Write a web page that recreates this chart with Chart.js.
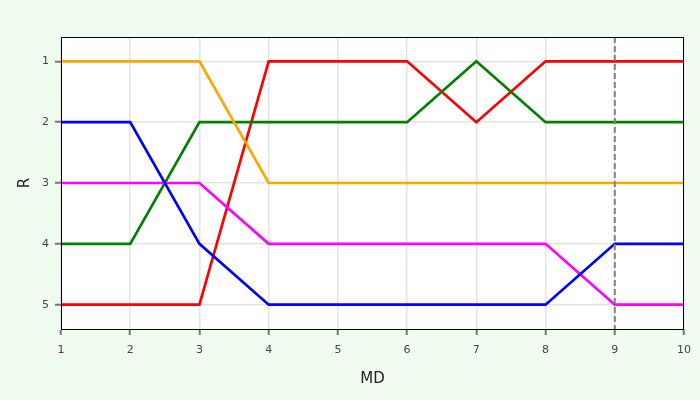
<!DOCTYPE html>
<html>
<head>
<meta charset="utf-8">
<script src="https://cdn.jsdelivr.net/npm/chart.js@4"></script>
<style>
  html, body { margin: 0; padding: 0; background: #effcef; }
  #wrap { width: 700px; height: 400px; }
</style>
</head>
<body>
<div id="wrap"><canvas id="chart" width="700" height="400"></canvas></div>
<script>
// ── Data ──────────────────────────────────────────
const md = [1, 2, 3, 4, 5, 6, 7, 8, 9, 10];
const rankOrange  = [1, 1, 1, 3, 3, 3, 3, 3, 3, 3];
const rankBlue    = [2, 2, 4, 5, 5, 5, 5, 5, 4, 4];
const rankMagenta = [3, 3, 3, 4, 4, 4, 4, 4, 5, 5];
const rankGreen   = [4, 4, 2, 2, 2, 2, 1, 2, 2, 2];
const rankRed     = [5, 5, 5, 1, 1, 1, 2, 1, 1, 1];
const markerMD = 9;

const pts = arr => arr.map((v, i) => ({ x: md[i], y: v }));
const line = (data, color) => ({
  data: pts(data),
  borderColor: color,
  borderWidth: 2.7,
  pointRadius: 0,
  tension: 0,
  fill: false,
});

// white plot area, dashed marker + box border
const extras = {
  id: 'extras',
  beforeDraw(chart) {
    const { ctx, chartArea: a } = chart;
    ctx.save();
    ctx.fillStyle = '#fff';
    ctx.fillRect(a.left, a.top, a.right - a.left, a.bottom - a.top);
    ctx.restore();
  },
  afterDatasetsDraw(chart) {
    const { ctx, chartArea: a, scales: { x } } = chart;
    const px = x.getPixelForValue(markerMD);
    ctx.save();
    ctx.strokeStyle = '#808080';
    ctx.lineWidth = 2;
    ctx.setLineDash([6, 3]);
    ctx.beginPath();
    ctx.moveTo(px, a.top);
    ctx.lineTo(px, a.bottom);
    ctx.stroke();
    ctx.setLineDash([]);
    ctx.strokeStyle = '#000';
    ctx.lineWidth = 1;
    ctx.strokeRect(a.left + 0.5, a.top + 0.5, a.right - a.left - 1, a.bottom - a.top);
    ctx.restore();
  }
};

const tickFont = { family: "'DejaVu Sans', sans-serif", size: 11 };
const titleFont = { family: "'DejaVu Sans', sans-serif", size: 15 };

new Chart(document.getElementById('chart'), {
  type: 'line',
  data: {
    datasets: [
      line(rankOrange, '#ffa500'),
      line(rankBlue, '#0000ff'),
      line(rankMagenta, '#ff00ff'),
      line(rankGreen, '#008000'),
      line(rankRed, '#ff0000'),
    ]
  },
  options: {
    responsive: false,
    animation: false,
    layout: { padding: { top: 37, right: 15, left: 0, bottom: 0 } },
    plugins: { legend: { display: false }, tooltip: { enabled: false } },
    scales: {
      x: {
        type: 'linear',
        min: 1, max: 10,
        ticks: { stepSize: 1, color: '#444', font: tickFont, padding: 9 },
        grid: { color: '#e4e4e4', lineWidth: 1.5, tickColor: '#777', tickLength: 6, tickWidth: 2 },
        border: { color: '#000', width: 1 },
        title: { display: true, text: 'MD', color: '#222', font: titleFont, padding: { top: 0, bottom: 12 } },
        afterFit(s) { s.height = 71; },
      },
      y: {
        type: 'linear',
        reverse: true,
        min: 0.6, max: 5.4,
        afterBuildTicks(s) { s.ticks = [1, 2, 3, 4, 5].map(v => ({ value: v })); },
        ticks: { color: '#444', font: tickFont, padding: 6 },
        grid: { color: '#e4e4e4', lineWidth: 1.5, tickColor: '#777', tickLength: 6, tickWidth: 2 },
        border: { color: '#000', width: 1 },
        title: { display: true, text: 'R', color: '#222', font: titleFont, padding: { top: 16, bottom: 0 } },
        afterFit(s) { s.width = 61; },
      }
    }
  },
  plugins: [extras]
});
</script>
</body>
</html>
